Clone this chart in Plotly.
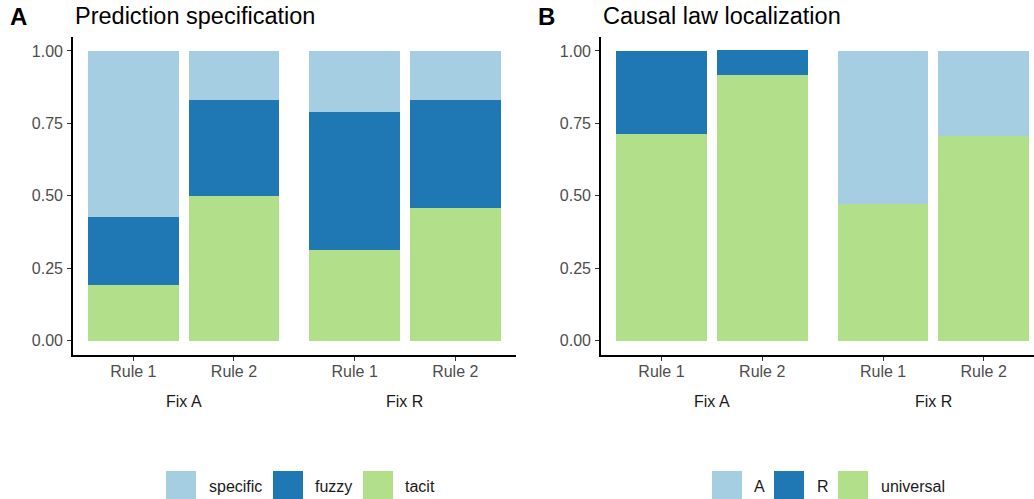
import plotly.graph_objects as go

W, H = 1034, 499

rules = ["Rule 1", "Rule 2"]
facets = ["Fix A", "Fix R"]

# Panel A: Prediction specification (proportions), per facet [Rule 1, Rule 2]
tacit = {"Fix A": [0.192, 0.500], "Fix R": [0.313, 0.458]}
fuzzy = {"Fix A": [0.235, 0.332], "Fix R": [0.476, 0.374]}
specific = {"Fix A": [0.573, 0.168], "Fix R": [0.211, 0.168]}

# Panel B: Causal law localization
universal = {"Fix A": [0.714, 0.917], "Fix R": [0.472, 0.708]}
R_vals = {"Fix A": [0.286, 0.086], "Fix R": [0.0, 0.0]}
A_vals = {"Fix A": [0.0, 0.0], "Fix R": [0.528, 0.292]}

yticks = [0, 0.25, 0.5, 0.75, 1.0]
ytick_text = ["0.00", "0.25", "0.50", "0.75", "1.00"]

C_LIGHT = "#A6CEE3"
C_DARK = "#1F78B4"
C_GREEN = "#B2DF8A"

FONT = "Liberation Sans, Arial, sans-serif"

def px(x):
    return x / W

def py(y):
    return 1 - y / H

fig = go.Figure()

panelA = [("tacit", tacit, C_GREEN), ("fuzzy", fuzzy, C_DARK), ("specific", specific, C_LIGHT)]
panelB = [("universal", universal, C_GREEN), ("R", R_vals, C_DARK), ("A", A_vals, C_LIGHT)]

axes_A = {"Fix A": ("x", "y"), "Fix R": ("x2", "y")}
axes_B = {"Fix A": ("x3", "y2"), "Fix R": ("x4", "y2")}

for series, axes in ((panelA, axes_A), (panelB, axes_B)):
    for name, data, color in series:
        for f in facets:
            xa, ya = axes[f]
            fig.add_trace(go.Bar(x=rules, y=data[f], name=name, marker=dict(color=color, line=dict(width=0)),
                                 width=0.9, xaxis=xa, yaxis=ya, showlegend=False))

ydom = [py(355.2), py(36.5)]
xdoms = {
    "xaxis": [px(73), px(294.3)],
    "xaxis2": [px(294.3), px(515.6)],
    "xaxis3": [px(601), px(822.7)],
    "xaxis4": [px(822.7), 1.0],
}
xranges = {"xaxis": [-0.6, 1.6], "xaxis2": [-0.6, 1.6], "xaxis3": [-0.6, 1.6], "xaxis4": [-0.6, 1.5]}
xanchor = {"xaxis": "y", "xaxis2": "y", "xaxis3": "y2", "xaxis4": "y2"}

layout_axes = {}
for k in xdoms:
    layout_axes[k] = dict(domain=xdoms[k], range=xranges[k], anchor=xanchor[k], type="category",
                          showline=True, linecolor="black", linewidth=1.6, ticks="outside", ticklen=4,
                          tickcolor="#333333", tickwidth=1.2, showgrid=False, zeroline=False,
                          ticklabelstandoff=-3,
                          tickfont=dict(family=FONT, size=16, color="#4D4D4D"), fixedrange=True)
for k, anc, d in (("yaxis", "x", xdoms["xaxis"]), ("yaxis2", "x3", xdoms["xaxis3"])):
    layout_axes[k] = dict(domain=ydom, range=[-0.05, 1.05], anchor=anc, tickvals=yticks, ticktext=ytick_text,
                          showline=True, linecolor="black", linewidth=1.6, ticks="outside", ticklen=4,
                          tickcolor="#333333", tickwidth=1.2, showgrid=False, zeroline=False,
                          ticklabelstandoff=1,
                          tickfont=dict(family=FONT, size=16, color="#4D4D4D"), fixedrange=True)

annotations = []
# panel titles
for tag, title, xt, xtitle in (("A", "Prediction specification", 8, 73), ("B", "Causal law localization", 536, 601)):
    annotations.append(dict(text="<b>%s</b>" % tag, x=px(xt), y=py(16), xref="paper", yref="paper",
                            xanchor="left", yanchor="middle", showarrow=False,
                            font=dict(family=FONT, size=24, color="black")))
    annotations.append(dict(text=title, x=px(xtitle), y=py(16), xref="paper", yref="paper",
                            xanchor="left", yanchor="middle", showarrow=False,
                            font=dict(family=FONT, size=23.5, color="black")))
# facet strip labels
for ax, lab in (("x", "Fix A"), ("x2", "Fix R"), ("x3", "Fix A"), ("x4", "Fix R")):
    xa = "xaxis" if ax == "x" else "xaxis" + ax[1:]
    d = xdoms[xa]
    cx = (d[0] + d[1]) / 2 if ax != "x4" else (d[0] + px(822.7 + 2.2 * 100.7)) / 2
    annotations.append(dict(text=lab, x=cx, y=py(401), xref="paper", yref="paper",
                            xanchor="center", yanchor="middle", showarrow=False,
                            font=dict(family=FONT, size=16, color="#1A1A1A")))

# legends (drawn as keys + labels)
legend_items = [
    ("specific", C_LIGHT, 166, 207), ("fuzzy", C_DARK, 273, 313), ("tacit", C_GREEN, 363, 403),
    ("A", C_LIGHT, 712, 752), ("R", C_DARK, 774, 815), ("universal", C_GREEN, 838, 879),
]
shapes = []
for lab, col, kx, tx in legend_items:
    shapes.append(dict(type="rect", xref="paper", yref="paper", x0=px(kx), x1=px(kx + 30),
                       y0=py(500), y1=py(471), fillcolor=col, line=dict(width=0)))
    annotations.append(dict(text=lab, x=px(tx), y=py(486), xref="paper", yref="paper",
                            xanchor="left", yanchor="middle", showarrow=False,
                            font=dict(family=FONT, size=16, color="#1A1A1A")))

fig.update_layout(width=W, height=H, margin=dict(l=0, r=0, t=0, b=0), barmode="stack",
                  plot_bgcolor="white", paper_bgcolor="white", showlegend=False,
                  annotations=annotations, shapes=shapes, bargap=0.1, **layout_axes)

fig.write_html("out.html", config={"displayModeBar": False},
               post_script="document.body.style.margin='0';document.body.style.overflow='hidden';")
